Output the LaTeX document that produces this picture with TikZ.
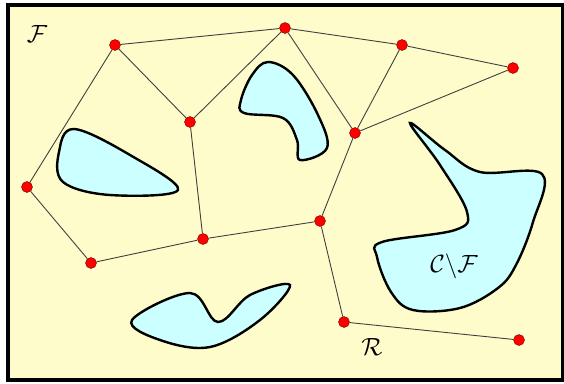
\documentclass[tikz,border=0pt]{standalone}
\usepackage{amssymb}
\begin{document}
\begin{tikzpicture}[x=1pt,y=-1pt,
  site/.style={circle,fill=red,draw=red!45!black,line width=0.4pt,inner sep=0pt,minimum size=11pt},
  link/.style={draw=black!75,line width=0.9pt},
  obst/.style={fill={rgb,255:red,204;green,255;blue,255},draw=black,line width=2.4pt,tension=0.6},
  lbl/.style={font=\fontsize{24}{28}\selectfont}]
\useasboundingbox (0,0) rectangle (564,383);
\fill[white] (0,0) rectangle (564,383);
\draw[fill={rgb,255:red,255;green,252;blue,204},line width=3.5pt] (8,5) rectangle (563,380);
% obstacles
\draw[obst] plot[smooth cycle] coordinates {(74,129) (59,152) (63,182) (110,195) (178,190) (130,155)};
\draw[obst] plot[smooth cycle] coordinates {(268,62) (252,75) (241,100) (244,113) (283,118) (297,140) (300,160) (327,148) (318,115) (293,75)};
\draw[obst] plot[smooth cycle] coordinates {(410,123) (445,150) (480,172) (542,174) (533,222) (516,265) (498,288) (460,308) (413,310) (391,292) (377,257) (382,242) (455,230) (467,212) (440,165)};
\draw[obst] plot[smooth cycle] coordinates {(132,320) (190,293) (218,322) (250,295) (290,285) (260,320) (210,347) (160,340)};
\node[lbl] (lf) at (37,34) {$\mathcal{F}$};
\node[lbl] (lr) at (372,347) {$\mathcal{R}$};
\node[lbl] (lc) at (454,266) {$\mathcal{C}\backslash\mathcal{F}$};
% sites
\node[site] (A) at (115,45) {};
\node[site] (B) at (285,28) {};
\node[site] (C) at (402,45) {};
\node[site] (D) at (513,68) {};
\node[site] (E) at (190,122) {};
\node[site] (F) at (355,133) {};
\node[site] (G) at (27,187) {};
\node[site] (H) at (320,221) {};
\node[site] (I) at (203,239) {};
\node[site] (J) at (91,263) {};
\node[site] (K) at (344,322) {};
\node[site] (L) at (519,340) {};
\draw[link] (A) -- (B); \draw[link] (B) -- (C); \draw[link] (C) -- (D);
\draw[link] (A) -- (E); \draw[link] (A) -- (G); \draw[link] (B) -- (E);
\draw[link] (B) -- (F); \draw[link] (C) -- (F); \draw[link] (D) -- (F);
\draw[link] (E) -- (I); \draw[link] (F) -- (H); \draw[link] (G) -- (J);
\draw[link] (J) -- (I); \draw[link] (I) -- (H); \draw[link] (H) -- (K);
\draw[link] (K) -- (L);
\end{tikzpicture}
\end{document}
